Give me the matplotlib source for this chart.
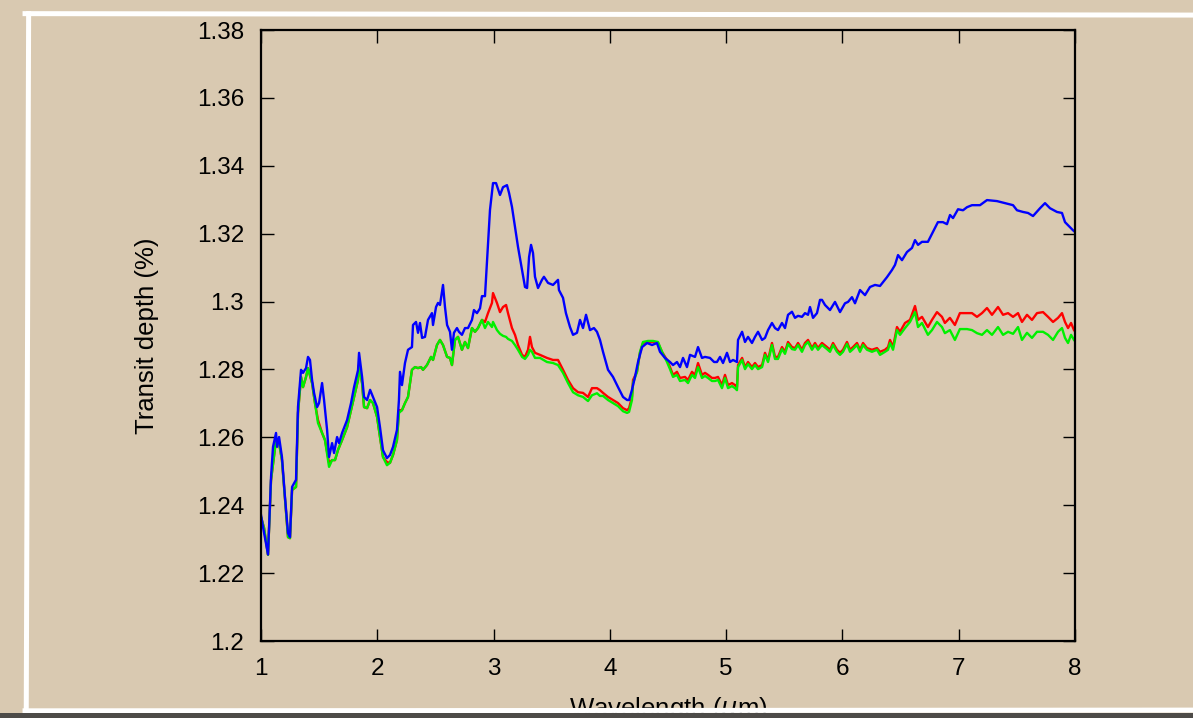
import matplotlib
matplotlib.use("Agg")
import matplotlib.pyplot as plt
from matplotlib.lines import Line2D
from matplotlib.patches import Rectangle

plt.rcParams['font.family'] = ['Liberation Sans', 'DejaVu Sans']

# wavelength (um) / transit depth (%)
wl_blue = [1.00, 1.017, 1.06, 1.086, 1.103, 1.129, 1.138, 1.155, 1.18, 1.206,
           1.232, 1.249, 1.267, 1.301, 1.318, 1.344, 1.361, 1.387, 1.404, 1.421,
           1.439, 1.456, 1.482, 1.499, 1.525, 1.542, 1.568, 1.585, 1.611, 1.628,
           1.654, 1.671, 1.697, 1.74, 1.774, 1.80, 1.834, 1.843, 1.869, 1.886,
           1.912, 1.938, 1.963, 1.998, 2.023, 2.049, 2.083, 2.109, 2.135, 2.169,
           2.186, 2.195, 2.212, 2.238, 2.264, 2.298, 2.307, 2.333, 2.35, 2.367,
           2.385, 2.41, 2.436, 2.47, 2.479, 2.505, 2.522, 2.539, 2.565, 2.582,
           2.60, 2.625, 2.642, 2.659, 2.685, 2.702, 2.728, 2.754, 2.78, 2.814,
           2.831, 2.857, 2.883, 2.90, 2.926, 2.943, 2.969, 2.995, 3.021, 3.055,
           3.081, 3.115, 3.133, 3.158, 3.184, 3.21, 3.245, 3.27, 3.288, 3.305,
           3.322, 3.339, 3.356, 3.382, 3.416, 3.433, 3.468, 3.511, 3.554, 3.562,
           3.597, 3.622, 3.657, 3.683, 3.717, 3.743, 3.769, 3.795, 3.829, 3.863,
           3.889, 3.915, 3.941, 3.984, 4.027, 4.07, 4.113, 4.148, 4.165, 4.19,
           4.216, 4.242, 4.277, 4.32, 4.363, 4.405, 4.431, 4.474, 4.517, 4.543,
           4.577, 4.603, 4.629, 4.663, 4.689, 4.732, 4.758, 4.792, 4.818, 4.861,
           4.896, 4.921, 4.947, 4.973, 5.007, 5.033, 5.059, 5.093, 5.102, 5.137,
           5.162, 5.188, 5.222, 5.248, 5.274, 5.309, 5.334, 5.36, 5.394, 5.42,
           5.446, 5.48, 5.506, 5.532, 5.566, 5.592, 5.618, 5.652, 5.678, 5.704,
           5.721, 5.747, 5.781, 5.807, 5.824, 5.85, 5.893, 5.936, 5.979, 6.022,
           6.048, 6.082, 6.108, 6.151, 6.194, 6.237, 6.28, 6.323, 6.383, 6.426,
           6.452, 6.478, 6.512, 6.555, 6.598, 6.624, 6.65, 6.684, 6.735, 6.778,
           6.821, 6.864, 6.899, 6.925, 6.951, 6.994, 7.037, 7.071, 7.114, 7.183,
           7.243, 7.329, 7.398, 7.467, 7.501, 7.553, 7.596, 7.639, 7.699, 7.742,
           7.785, 7.845, 7.888, 7.914, 7.94, 7.983, 8.0]
depth_blue = [1.2371, 1.2336, 1.2255, 1.2483, 1.2572, 1.2613, 1.2572, 1.2601, 1.2542, 1.2424,
              1.2318, 1.2306, 1.2454, 1.2475, 1.269, 1.2799, 1.279, 1.2804, 1.2837, 1.2828,
              1.2769, 1.2731, 1.2689, 1.2701, 1.276, 1.271, 1.2622, 1.2542, 1.2583, 1.2554,
              1.2601, 1.2583, 1.2613, 1.2651, 1.2701, 1.2748, 1.2798, 1.2849, 1.2778, 1.2719,
              1.271, 1.274, 1.2719, 1.2689, 1.263, 1.2562, 1.2539, 1.2548, 1.2572, 1.2622,
              1.271, 1.2793, 1.2754, 1.2819, 1.2858, 1.2866, 1.2931, 1.294, 1.2908, 1.2937,
              1.2893, 1.2896, 1.2946, 1.2966, 1.2931, 1.2984, 1.2996, 1.299, 1.3049, 1.2984,
              1.2931, 1.2911, 1.2858, 1.2908, 1.2922, 1.2911, 1.2902, 1.2922, 1.2922, 1.2946,
              1.2975, 1.2966, 1.298, 1.3016, 1.3016, 1.3116, 1.327, 1.3349, 1.3349, 1.3314,
              1.3337, 1.3343, 1.332, 1.3279, 1.322, 1.3161, 1.3093, 1.3043, 1.304, 1.3131,
              1.3167, 1.3143, 1.3073, 1.304, 1.3064, 1.3073, 1.3055, 1.3049, 1.3064, 1.3034,
              1.3011, 1.2966, 1.2925, 1.2902, 1.2908, 1.2946, 1.2922, 1.2961, 1.2916, 1.2922,
              1.2911, 1.2887, 1.2852, 1.2799, 1.2778, 1.2748, 1.2719, 1.271, 1.271, 1.274,
              1.2778, 1.2822, 1.2866, 1.2878, 1.2872, 1.2878, 1.2852, 1.2834, 1.2822, 1.2813,
              1.2822, 1.2807, 1.2834, 1.2807, 1.2843, 1.2837, 1.2866, 1.2834, 1.2837, 1.2834,
              1.2822, 1.2822, 1.2837, 1.2819, 1.2849, 1.2822, 1.2828, 1.2822, 1.2887, 1.2911,
              1.2881, 1.2896, 1.2878, 1.2896, 1.2911, 1.2887, 1.2893, 1.2916, 1.2937, 1.2922,
              1.2916, 1.2937, 1.2922, 1.2961, 1.297, 1.2952, 1.2958, 1.2955, 1.2966, 1.2961,
              1.2984, 1.2952, 1.2966, 1.3005, 1.3005, 1.299, 1.2975, 1.2999, 1.2969, 1.2995,
              1.2999, 1.3013, 1.2995, 1.3034, 1.3019, 1.3043, 1.3049, 1.3046, 1.3072, 1.3093,
              1.3108, 1.3137, 1.3122, 1.3146, 1.3158, 1.3181, 1.3167, 1.3176, 1.3176, 1.3205,
              1.3234, 1.3234, 1.3228, 1.3255, 1.3246, 1.3272, 1.3269, 1.3278, 1.3284, 1.3284,
              1.3299, 1.3296, 1.329, 1.3284, 1.3269, 1.3264, 1.3261, 1.3252, 1.3275, 1.329,
              1.3275, 1.3264, 1.3261, 1.3234, 1.3225, 1.321, 1.3205]

wl_rg = [1.00, 1.026, 1.06, 1.086, 1.129, 1.155, 1.18, 1.232, 1.249, 1.267,
         1.301, 1.318, 1.344, 1.361, 1.387, 1.404, 1.439, 1.464, 1.49, 1.525,
         1.55, 1.585, 1.611, 1.636, 1.662, 1.697, 1.74, 1.774, 1.80, 1.834,
         1.843, 1.869, 1.886, 1.912, 1.938, 1.963, 1.998, 2.023, 2.049, 2.083,
         2.109, 2.135, 2.169, 2.186, 2.212, 2.238, 2.264, 2.298, 2.324, 2.35,
         2.376, 2.393, 2.427, 2.462, 2.479, 2.513, 2.539, 2.565, 2.60, 2.625,
         2.642, 2.668, 2.694, 2.728, 2.754, 2.78, 2.814, 2.84, 2.866, 2.90,
         2.926, 2.952, 2.986, 2.995, 3.029, 3.055, 3.081, 3.107, 3.124, 3.158,
         3.184, 3.21, 3.245, 3.27, 3.296, 3.313, 3.33, 3.356, 3.399, 3.459,
         3.511, 3.554, 3.597, 3.64, 3.683, 3.726, 3.769, 3.812, 3.846, 3.889,
         3.915, 3.941, 3.984, 4.027, 4.07, 4.113, 4.148, 4.165, 4.19, 4.199,
         4.233, 4.259, 4.285, 4.328, 4.371, 4.414, 4.448, 4.491, 4.517, 4.543,
         4.577, 4.603, 4.646, 4.672, 4.706, 4.732, 4.758, 4.792, 4.818, 4.844,
         4.878, 4.904, 4.93, 4.964, 4.99, 5.016, 5.05, 5.076, 5.093, 5.102,
         5.137, 5.162, 5.188, 5.222, 5.248, 5.274, 5.309, 5.334, 5.36, 5.394,
         5.42, 5.446, 5.48, 5.506, 5.532, 5.566, 5.592, 5.618, 5.652, 5.678,
         5.704, 5.738, 5.764, 5.79, 5.824, 5.867, 5.893, 5.919, 5.953, 5.979,
         6.005, 6.039, 6.065, 6.091, 6.125, 6.151, 6.177, 6.211, 6.254, 6.297,
         6.323, 6.366, 6.392, 6.409, 6.435, 6.469, 6.495, 6.538, 6.581, 6.624,
         6.65, 6.684, 6.71, 6.735, 6.77, 6.813, 6.856, 6.881, 6.924, 6.967,
         7.01, 7.071, 7.114, 7.157, 7.2, 7.243, 7.286, 7.338, 7.381, 7.424,
         7.467, 7.51, 7.544, 7.587, 7.63, 7.673, 7.725, 7.768, 7.811, 7.854,
         7.888, 7.914, 7.94, 7.966, 7.991]
depth_red = [1.2365, 1.2333, 1.2254, 1.2474, 1.2592, 1.2583, 1.2533, 1.2306, 1.2303, 1.2445,
             1.2454, 1.2672, 1.2778, 1.2748, 1.2778, 1.2804, 1.276, 1.2701, 1.2651, 1.2613,
             1.2592, 1.2525, 1.2533, 1.2533, 1.2563, 1.2592, 1.263, 1.268, 1.2719, 1.2769,
             1.2813, 1.276, 1.2689, 1.2686, 1.271, 1.2701, 1.266, 1.2601, 1.2542, 1.2527,
             1.2525, 1.2548, 1.2592, 1.268, 1.268, 1.2701, 1.2719, 1.2799, 1.2807, 1.2804,
             1.2807, 1.2799, 1.2813, 1.2837, 1.2828, 1.2872, 1.2887, 1.2872, 1.2837, 1.2834,
             1.2813, 1.2887, 1.2896, 1.2858, 1.2881, 1.2863, 1.2922, 1.2911, 1.2922, 1.2946,
             1.294, 1.2966, 1.2996, 1.3025, 1.2996, 1.2969, 1.2984, 1.299, 1.2966, 1.2922,
             1.2902, 1.2872, 1.2843, 1.2837, 1.2858, 1.2896, 1.2866, 1.2849, 1.2843, 1.2834,
             1.2828, 1.2828, 1.2799, 1.2769, 1.2745, 1.2733, 1.2731, 1.2719, 1.2745, 1.2745,
             1.2739, 1.2731, 1.2719, 1.271, 1.2701, 1.2686, 1.268, 1.2686, 1.2719, 1.2769,
             1.2793, 1.2849, 1.2878, 1.2881, 1.2881, 1.2878, 1.2852, 1.2828, 1.2807, 1.2784,
             1.2793, 1.2775, 1.2778, 1.2769, 1.2793, 1.2784, 1.2819, 1.2784, 1.279, 1.2784,
             1.2775, 1.2775, 1.2778, 1.2754, 1.2784, 1.2754, 1.276, 1.2754, 1.2748, 1.2813,
             1.2834, 1.2807, 1.2822, 1.2807, 1.2819, 1.2807, 1.2813, 1.2849, 1.2828, 1.2878,
             1.2837, 1.2837, 1.2866, 1.2852, 1.2881, 1.2866, 1.2863, 1.2878, 1.2858, 1.2878,
             1.2887, 1.2863, 1.2878, 1.2863, 1.2878, 1.2866, 1.2858, 1.2878, 1.2858, 1.2849,
             1.2858, 1.2881, 1.2858, 1.2866, 1.2878, 1.2858, 1.2878, 1.2863, 1.2858, 1.2863,
             1.2852, 1.2858, 1.2866, 1.2887, 1.2866, 1.2925, 1.2911, 1.2937, 1.2946, 1.2987,
             1.2946, 1.2955, 1.294, 1.2925, 1.2946, 1.2969, 1.2955, 1.2937, 1.2952, 1.2931,
             1.2966, 1.2966, 1.2966, 1.2955, 1.2966, 1.2981, 1.2961, 1.2984, 1.2961, 1.2966,
             1.2955, 1.2966, 1.294, 1.2961, 1.2946, 1.2966, 1.2969, 1.2955, 1.294, 1.2952,
             1.2966, 1.294, 1.2922, 1.2937, 1.2916]
depth_green = [1.2365, 1.2333, 1.2254, 1.2474, 1.2592, 1.2583, 1.2533, 1.2306, 1.2303, 1.2445,
               1.2454, 1.2672, 1.2778, 1.2748, 1.2778, 1.2804, 1.276, 1.2701, 1.2642, 1.2613,
               1.2592, 1.2513, 1.2533, 1.2533, 1.2563, 1.2592, 1.263, 1.268, 1.2719, 1.2769,
               1.2813, 1.276, 1.2689, 1.2686, 1.271, 1.2701, 1.266, 1.2601, 1.2542, 1.2518,
               1.2525, 1.2548, 1.2592, 1.2672, 1.268, 1.2701, 1.2719, 1.2799, 1.2807, 1.2804,
               1.2807, 1.2799, 1.2813, 1.2837, 1.2828, 1.2872, 1.2887, 1.2872, 1.2837, 1.2834,
               1.2813, 1.2887, 1.2896, 1.2858, 1.2881, 1.2863, 1.2922, 1.2911, 1.2922, 1.2946,
               1.2922, 1.294, 1.2925, 1.294, 1.2916, 1.2905, 1.2899, 1.2896, 1.289, 1.2884,
               1.2872, 1.2858, 1.2837, 1.2831, 1.2843, 1.2858, 1.2852, 1.2834, 1.2834, 1.2822,
               1.2819, 1.2813, 1.279, 1.276, 1.2733, 1.2724, 1.2719, 1.2707, 1.2724, 1.273,
               1.2722, 1.2722, 1.271, 1.2701, 1.2692, 1.2677, 1.2672, 1.2675, 1.271, 1.276,
               1.2793, 1.2852, 1.2881, 1.2884, 1.2884, 1.2881, 1.2852, 1.2822, 1.2801, 1.2778,
               1.2784, 1.2766, 1.2769, 1.276, 1.2784, 1.2775, 1.2807, 1.2775, 1.2781, 1.2775,
               1.2766, 1.2766, 1.2769, 1.2745, 1.2775, 1.2745, 1.2751, 1.2745, 1.2739, 1.2807,
               1.2828, 1.2801, 1.2816, 1.2801, 1.2813, 1.2801, 1.2807, 1.2843, 1.2822, 1.2872,
               1.2831, 1.2831, 1.286, 1.2846, 1.2875, 1.286, 1.2858, 1.2872, 1.2852, 1.2872,
               1.2881, 1.2858, 1.2872, 1.2858, 1.2872, 1.286, 1.2852, 1.2872, 1.2852, 1.2843,
               1.2852, 1.2875, 1.2852, 1.286, 1.2872, 1.2852, 1.2872, 1.2858, 1.2852, 1.2858,
               1.2843, 1.2852, 1.2858, 1.2878, 1.2858, 1.2916, 1.2902, 1.2922, 1.294, 1.2969,
               1.2925, 1.2937, 1.2919, 1.2902, 1.2916, 1.294, 1.2925, 1.2907, 1.2916, 1.2887,
               1.2919, 1.2919, 1.2916, 1.2907, 1.2902, 1.2916, 1.2902, 1.2925, 1.2902, 1.2911,
               1.2905, 1.2925, 1.2887, 1.2908, 1.2893, 1.2911, 1.2911, 1.2902, 1.2887, 1.2911,
               1.2922, 1.2893, 1.2878, 1.2902, 1.2887]

x_ticks = [1, 2, 3, 4, 5, 6, 7, 8]
y_ticks = [1.2, 1.22, 1.24, 1.26, 1.28, 1.3, 1.32, 1.34, 1.36, 1.38]
y_labels = ['1.2', '1.22', '1.24', '1.26', '1.28', '1.3', '1.32', '1.34', '1.36', '1.38']

paper = '#d9c9b1'

fig = plt.figure(figsize=(11.93, 7.18), dpi=100, facecolor=paper)
ax = fig.add_axes([0.2188, 0.1072, 0.6823, 0.851])
ax.set_facecolor(paper)

ax.plot(wl_rg, depth_red, color='#ff0000', lw=1.7)
ax.plot(wl_rg, depth_green, color='#00f000', lw=1.7)
ax.plot(wl_blue, depth_blue, color='#0000ff', lw=1.7)

ax.set_xlim(1, 8)
ax.set_ylim(1.2, 1.38)
ax.set_xticks(x_ticks)
ax.set_yticks(y_ticks)
ax.set_yticklabels(y_labels)
ax.tick_params(direction='in', length=9, width=1, top=True, right=True,
               labelsize=17.5, colors='black')
ax.tick_params(axis='x', pad=12)
ax.tick_params(axis='y', pad=12)
for s in ax.spines.values():
    s.set_linewidth(1.6)

ax.set_ylabel('Transit depth (%)', fontsize=18.5)
ax.yaxis.set_label_coords(-0.125, 0.5)
ax.set_xlabel('Wavelength ($\\mu$m)', fontsize=18.5)
ax.xaxis.set_label_coords(0.5, -0.088)

# torn white paper edge and dark strip at the bottom
edge = dict(color='white', lw=3.6, transform=fig.transFigure, zorder=10)
fig.add_artist(Line2D([0.021, 1.0], [0.981, 0.979], **edge))
fig.add_artist(Line2D([0.024, 0.022], [0.981, 0.010], **edge))
fig.add_artist(Line2D([0.021, 1.0], [0.010, 0.011], **edge))
fig.add_artist(Rectangle((0, 0), 1, 0.007, transform=fig.transFigure,
                         facecolor='#4d4b48', edgecolor='none', zorder=11))

fig.savefig('out.png', dpi=100, facecolor=paper)
